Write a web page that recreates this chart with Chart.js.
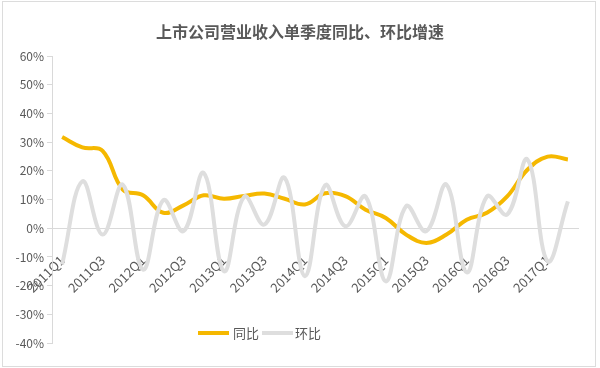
<!DOCTYPE html>
<html>
<head>
<meta charset="utf-8">
<script src="https://cdn.jsdelivr.net/npm/chart.js@4.4.0/dist/chart.umd.min.js"></script>
<style>
  html, body { margin: 0; padding: 0; background: #fff; }
  #wrap { position: relative; width: 600px; height: 368px; }
  #frame { position: absolute; left: 2px; top: 1px; width: 592px; height: 364px; border: 1px solid #dcdcdc; pointer-events: none; }
  .key { position: absolute; height: 4px; top: 331px; width: 31px; }
  .lbl { position: absolute; top: 324px; font: 13px "Noto Sans CJK SC", sans-serif; color: #595959; line-height: 18px; }
</style>
</head>
<body>
<div id="wrap">
  <canvas id="chart"></canvas>
  <div id="frame"></div>
  <div class="key" style="left:198px;background:#f5b800"></div>
  <div class="lbl" style="left:233px">同比</div>
  <div class="key" style="left:262px;background:#dedede"></div>
  <div class="lbl" style="left:295px">环比</div>
</div>
<script>
// quarters 2011Q1 .. 2017Q2
var quarters = ["2011Q1", "2011Q2", "2011Q3", "2011Q4", "2012Q1", "2012Q2", "2012Q3", "2012Q4",
  "2013Q1", "2013Q2", "2013Q3", "2013Q4", "2014Q1", "2014Q2", "2014Q3", "2014Q4",
  "2015Q1", "2015Q2", "2015Q3", "2015Q4", "2016Q1", "2016Q2", "2016Q3", "2016Q4",
  "2017Q1", "2017Q2"];

// 同比 (yoy), %
var yoy = [31.8, 28.2, 27, 13.5, 11.5, 5.4, 8, 11.5, 10.3, 11.3, 12.1, 10.3, 8.3,
  12.2, 11.2, 6.5, 3.6, -2.2, -5.1, -2.2, 3, 5.4, 11.1, 20.4, 25, 24];

// 环比 (qoq), %
var qoq = [-12.6, 16.4, -2.2, 15.2, -14.4, 9.8, -1, 19.3, -15, 11, 1.3, 17.6, -16.7,
  15, 0.7, 11.1, -18.5, 7.7, -1, 15.2, -15.4, 11.1, 4.8, 24, -11.5, 9.4];

var yTicks = { min: -40, max: 60, step: 10 };

var ctx = document.getElementById("chart").getContext('2d');
var myChart = new Chart(ctx, {
    type: 'line',
    data: {
        labels: quarters,
        datasets: [{
            label: "环比",
            data: qoq,
            borderColor: '#dedede',
            borderWidth: 4,
            pointRadius: 0,
            tension: 0.4,
            order: 0
        }, {
            label: "同比",
            data: yoy,
            borderColor: '#f5b800',
            borderWidth: 4,
            pointRadius: 0,
            tension: 0.4,
            order: 1
        }]
    },
    options: {
        responsive: true,
        maintainAspectRatio: false,
        animation: false,
        layout: { padding: { left: 0, right: 0, top: 0, bottom: 25 } },
        font: { family: '"Noto Sans CJK SC", sans-serif' },
        plugins: {
            legend: { display: false },
            tooltip: { enabled: false },
            title: {
                display: true,
                text: '上市公司营业收入单季度同比、环比增速',
                color: '#595959',
                font: { size: 16, weight: 'bold', family: '"Noto Sans CJK SC", sans-serif' },
                padding: { top: 22, bottom: 15 }
            }
        },
        scales: {
            x: {
                position: { y: 0 },
                offset: true,
                grid: { display: false },
                border: { color: '#d9d9d9', width: 1 },
                ticks: {
                    autoSkip: false,
                    minRotation: 45,
                    maxRotation: 45,
                    padding: 16,
                    color: '#595959',
                    font: { size: 13, family: '"Noto Sans CJK SC", sans-serif' },
                    callback: function (v, i) { return i % 2 === 0 ? quarters[i] : ''; }
                }
            },
            y: {
                min: yTicks.min,
                max: yTicks.max,
                afterFit: function (s) { s.width = 52; },
                grid: { drawOnChartArea: false, drawTicks: true, tickLength: 5, tickColor: '#d9d9d9' },
                border: { color: '#d9d9d9', width: 1 },
                ticks: {
                    stepSize: yTicks.step,
                    padding: 3,
                    color: '#595959',
                    font: { size: 12, family: '"Noto Sans CJK SC", sans-serif' },
                    callback: function (v) { return v + '%'; }
                }
            },
            // empty right margin so the title stays centred on the page
            yRight: {
                position: 'right',
                afterFit: function (s) { s.width = 22; },
                grid: { display: false },
                border: { display: false },
                ticks: { display: false }
            }
        }
    }
});
</script>
</body>
</html>
